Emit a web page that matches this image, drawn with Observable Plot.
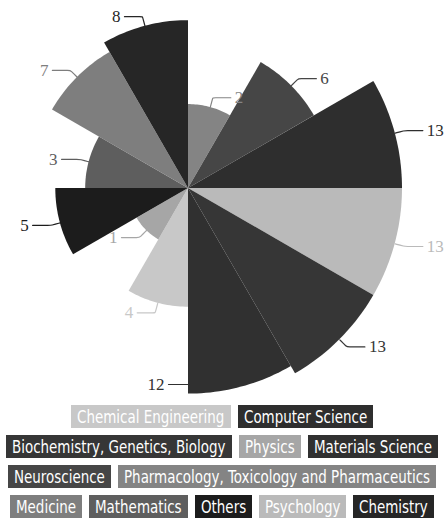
<!DOCTYPE html>
<html><head><meta charset="utf-8">
<script src="https://cdn.jsdelivr.net/npm/d3@7"></script>
<script src="https://cdn.jsdelivr.net/npm/@observablehq/plot@0.6"></script>
<style>
body{margin:0;background:#fff;}
#chart{width:444px;height:402px;}
#legend{display:flex;flex-wrap:wrap;justify-content:center;column-gap:7px;row-gap:7px;width:444px;margin-top:3px;}
#legend .item{display:block;flex:none;height:23px;line-height:23px;padding:0 6px;overflow:visible;white-space:nowrap;box-sizing:content-box;}
#legend .txt{display:inline-block;color:#fff;font-family:"DejaVu Sans Condensed","DejaVu Sans",sans-serif;font-size:18px;transform-origin:0 50%;white-space:nowrap;}
</style></head><body><div id="chart"></div><div id="legend"></div>
<script>
// slices, clockwise from 12 o'clock
const categories = ["Pharmacology, Toxicology and Pharmaceutics", "Neuroscience", "Computer Science", "Psychology",
  "Biochemistry, Genetics, Biology", "Materials Science", "Chemical Engineering", "Physics",
  "Others", "Mathematics", "Medicine", "Chemistry"];
const values = [2, 6, 13, 13, 13, 12, 4, 1, 5, 3, 7, 8];
const legendOrder = ["Chemical Engineering", "Computer Science", "Biochemistry, Genetics, Biology", "Physics",
  "Materials Science", "Neuroscience", "Pharmacology, Toxicology and Pharmaceutics", "Medicine",
  "Mathematics", "Others", "Psychology", "Chemistry"];
const palette = ["#c8c8c8", "#2e2e2e", "#363636", "#a6a6a6", "#303030", "#464646", "#848484", "#7e7e7e",
  "#5e5e5e", "#1c1c1c", "#bababa", "#262626"];

const W = 444, H = 402, CX = 188, CY = 188;
const rScale = Plot.scale({r: {type: "sqrt", domain: [0, 13], range: [0, 214]}});
const R = v => rScale.apply(v);
const step = 360 / categories.length;
const rad = d => d * Math.PI / 180;

const wedges = [];
categories.forEach((c, i) => {
  const r = R(values[i]);
  const a0 = i * step, a1 = (i + 1) * step;
  for (let k = 0; k <= 24; k++) {
    const a = rad(a0 + (a1 - a0) * k / 24);
    wedges.push({cat: c, x0: 0, y0: 0, x: r * Math.sin(a), y: -r * Math.cos(a)});
  }
});

const L1 = 10, L2 = 18, maxY = 384 - CY;
const leaders = [], texts = [];
categories.forEach((c, i) => {
  const r = R(values[i]);
  const am = rad((i + 0.5) * step);
  const A = {x: r * Math.sin(am), y: -r * Math.cos(am)};
  const B = {x: (r + L1) * Math.sin(am), y: -(r + L1) * Math.cos(am)};
  let side = A.x < 0 ? -1 : 1;
  let pts = [A, B, B, {x: B.x + side * L2, y: B.y}];
  if (B.y > maxY) {
    const ae = rad((i + 1) * step);
    const t = maxY / (-Math.cos(ae));
    const E = {x: t * Math.sin(ae), y: maxY};
    side = -1;
    pts = [E, {x: E.x - 20, y: maxY}];
  }
  pts.forEach(p => leaders.push({cat: c, x: p.x, y: p.y}));
  const C = pts[pts.length - 1];
  texts.push({cat: c, x: C.x + side * 4, y: C.y, label: String(values[i]), side});
});

const textStyle = {x: "x", y: "y", text: "label", fill: "cat", fontSize: 17, fontFamily: "Liberation Serif, serif"};
const chart = Plot.plot({
  width: W, height: H, margin: 0,
  x: {domain: [-CX, W - CX], range: [0, W], axis: null},
  y: {domain: [-CY, H - CY], range: [0, H], axis: null},
  color: {domain: legendOrder, range: palette},
  marks: [
    Plot.area(wedges, {x1: "x0", y1: "y0", x2: "x", y2: "y", z: "cat", fill: "cat"}),
    Plot.line(leaders, {x: "x", y: "y", z: "cat", stroke: "cat", strokeWidth: 1.2, curve: "basis"}),
    Plot.text(texts.filter(d => d.side < 0), {...textStyle, textAnchor: "end"}),
    Plot.text(texts.filter(d => d.side > 0), {...textStyle, textAnchor: "start"})
  ]
});
document.getElementById("chart").appendChild(chart);

const legend = document.getElementById("legend");
const SX = 0.83;
legendOrder.forEach((c, i) => {
  const item = document.createElement("span");
  item.className = "item";
  item.style.background = palette[i];
  const t = document.createElement("span");
  t.className = "txt";
  t.textContent = c;
  item.appendChild(t);
  legend.appendChild(item);
  const w = t.getBoundingClientRect().width;
  t.style.transform = `scaleX(${SX})`;
  item.style.width = (w * SX) + "px";
});
</script>
</body></html>
